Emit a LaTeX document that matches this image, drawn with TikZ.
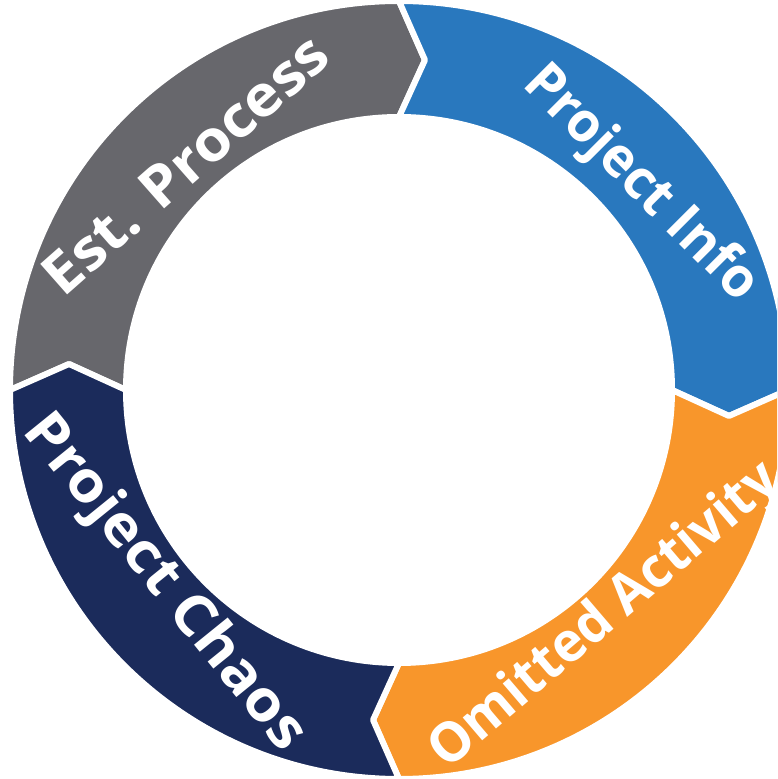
\documentclass[tikz,border=0pt]{standalone}
\usepackage{fontspec}
\setmainfont{Open Sans}
\definecolor{segGray}{RGB}{103,103,108}
\definecolor{segBlue}{RGB}{41,120,190}
\definecolor{segOrange}{RGB}{248,150,43}
\definecolor{segNavy}{RGB}{27,43,91}
\begin{document}
\begin{tikzpicture}[x=1pt,y=1pt,
  seg/.style={fill=#1, draw=white, line width=6pt, line join=round},
  % font size, horizontal stretch, cap height
  lbl/.style n args={3}{text=white, inner sep=0pt, anchor=center,
    text height=#3, text depth=0pt,
    font=\fontsize{#1}{#1}\selectfont\bfseries\addfontfeature{FakeStretch=#2}}]
\useasboundingbox (0,0) rectangle (777,779);
\clip (0,0) rectangle (777,779);
% ring of four chevron segments, flowing clockwise
\begin{scope}[shift={(399,389)}]
  \def\Ro{389}\def\Ri{273}\def\Rm{331}\def\dl{4.5}
  \path[seg=segGray] (180:\Ro) arc[start angle=180,end angle=90,radius=\Ro]
    -- (90-\dl:\Rm) -- (90:\Ri) arc[start angle=90,end angle=180,radius=\Ri]
    -- (180-\dl:\Rm) -- cycle;
  \path[seg=segBlue] (90:\Ro) arc[start angle=90,end angle=0,radius=\Ro]
    -- (-\dl:\Rm) -- (0:\Ri) arc[start angle=0,end angle=90,radius=\Ri]
    -- (90-\dl:\Rm) -- cycle;
  \path[seg=segOrange] (0:\Ro) arc[start angle=0,end angle=-90,radius=\Ro]
    -- (-90-\dl:\Rm) -- (-90:\Ri) arc[start angle=-90,end angle=0,radius=\Ri]
    -- (-\dl:\Rm) -- cycle;
  \path[seg=segNavy] (-90:\Ro) arc[start angle=-90,end angle=-180,radius=\Ro]
    -- (180-\dl:\Rm) -- (180:\Ri) arc[start angle=180,end angle=270,radius=\Ri]
    -- (-90-\dl:\Rm) -- cycle;
\end{scope}
% labels
\node[lbl={57}{1.07}{40.7pt}, rotate=41.4] (est) at (185,615) {Est. Process};
\node[lbl={55}{0.97}{39.3pt}, rotate=-45] (info) at (644,598) {Project Info};
\node[lbl={55}{0.97}{39.3pt}, rotate=40.5] (omit) at (602,166) {Omitted Activity};
\node[lbl={57}{1.07}{40.7pt}, rotate=-51] (chaos) at (168,199) {Project Chaos};
\end{tikzpicture}
\end{document}
